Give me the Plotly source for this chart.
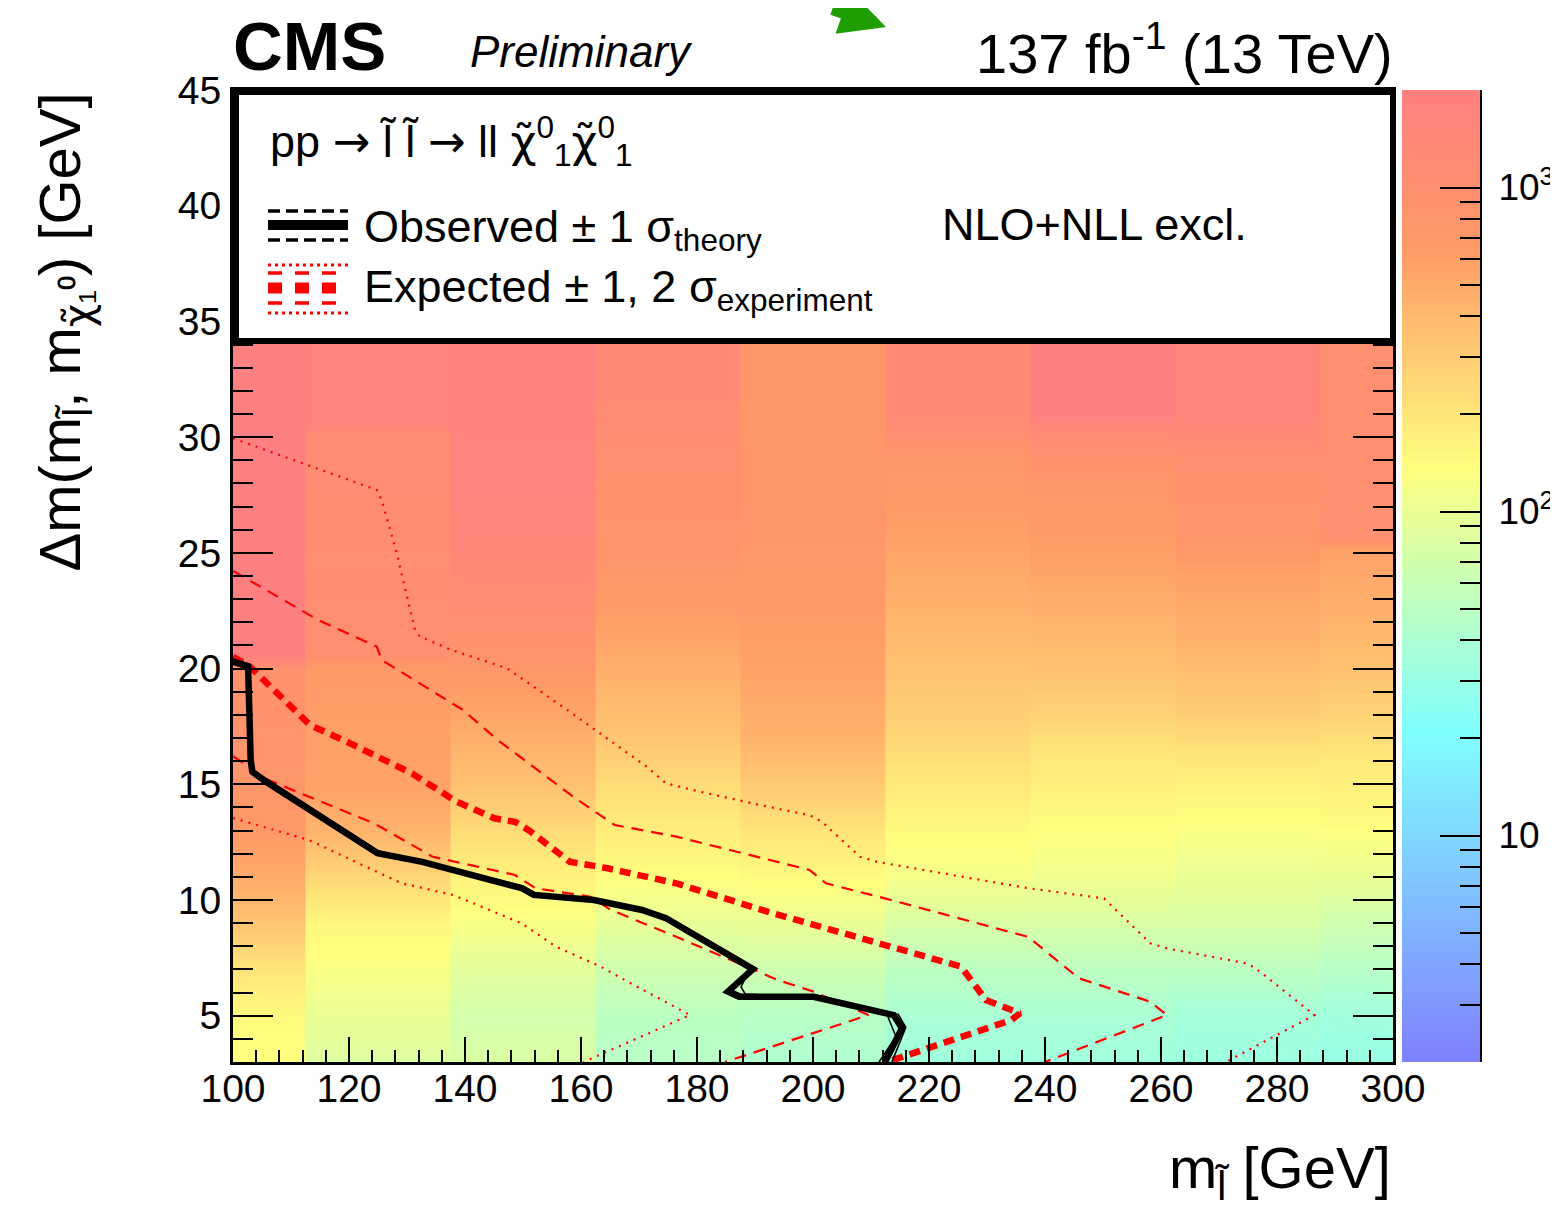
import numpy as np
import plotly.graph_objects as go

# ---------------- data ----------------
# x-bin edges of the colour map columns [GeV]
COL_EDGES = [100, 112.5, 137.5, 162.5, 187.5, 212.5, 237.5, 262.5, 287.5, 300]

# per column: delta-m nodes [GeV] and 95% CL upper limit on cross section [fb]
COL_A_Y = [3, 5, 7, 9, 11, 13, 15, 17, 20, 20.6, 45]
COL_A_V = [135, 145, 205, 332, 502, 662, 760, 870, 930, 2000, 2000]
COL_B_Y = [3, 5, 7, 9, 11, 13, 15, 17, 20, 20.6, 25, 30, 30.6, 45]
COL_B_V = [83, 100, 126, 155, 252, 438, 577, 600, 660, 1000, 1100, 1150, 1742, 1742]
COL_C_Y = [3, 5, 7, 9, 11, 13, 15, 17, 19, 21, 24, 27, 30, 45]
COL_C_V = [78, 72, 90, 126, 166, 235, 356, 469, 620, 900, 1300, 1700, 1800, 1800]
COL_D_Y = [3, 5, 7, 9, 11, 13, 15, 17, 20, 22, 25, 29, 32, 45]
COL_D_V = [48, 51, 67, 96, 135, 178, 235, 332, 469, 600, 820, 1000, 1300, 1300]
COL_E_Y = [3, 5, 7, 9, 11, 13, 15, 17, 20, 23, 26, 45]
COL_E_V = [42, 48, 67, 100, 145, 205, 310, 438, 577, 662, 760, 760]
COL_F_Y = [3, 5, 7, 9, 11, 13, 15, 18, 21, 24, 27, 29, 31, 45]
COL_F_V = [34, 39, 51, 78, 118, 145, 191, 289, 381, 502, 662, 760, 1300, 1300]
COL_G_Y = [3, 5, 7, 9, 11, 13, 16, 19, 22, 25, 28, 30, 31, 45]
COL_G_V = [34, 39, 51, 78, 110, 135, 191, 310, 438, 600, 760, 1150, 2000, 2000]
COL_H_Y = [3, 5, 7, 9, 11, 13.5, 15.5, 18, 21, 24, 26, 29, 31, 45]
COL_H_V = [32, 36, 51, 78, 100, 135, 178, 289, 438, 577, 820, 1000, 1600, 1600]
COL_I_Y = [3, 5, 7, 9, 11, 13.5, 16, 19, 22, 25.2, 25.6, 45]
COL_I_V = [30, 34, 48, 67, 100, 145, 191, 310, 438, 577, 1000, 1100]

COLUMNS = [(COL_A_Y, COL_A_V), (COL_B_Y, COL_B_V), (COL_C_Y, COL_C_V),
           (COL_D_Y, COL_D_V), (COL_E_Y, COL_E_V), (COL_F_Y, COL_F_V),
           (COL_G_Y, COL_G_V), (COL_H_Y, COL_H_V), (COL_I_Y, COL_I_V)]

Z_MIN, Z_MAX = 2, 2000

# exclusion contours (m_slepton, delta m) [GeV]
OBS_X = [100, 102.6, 103.05, 103.33, 105.69, 124.93, 132.62, 149.79, 151.86, 162.22,
         170.52, 174.66, 189.66, 185.34, 187.24, 200.1, 213.9, 215.34, 212.41]
OBS_Y = [20.30, 20.08, 16.05, 15.54, 15.11, 12.02, 11.65, 10.51, 10.22, 10.00,
         9.57, 9.21, 7.02, 6.04, 5.82, 5.82, 5.03, 4.46, 3.0]

OBS_UP_X = [100, 102.8, 103.3, 103.6, 106.0, 125.2, 132.9, 150.0, 152.1, 162.4,
            170.8, 175.0, 190.2, 186.0, 187.8, 200.3, 214.7, 216.0, 213.6]
OBS_UP_Y = [20.4, 20.2, 16.1, 15.6, 15.2, 12.1, 11.7, 10.6, 10.3, 10.05,
            9.6, 9.25, 7.05, 6.1, 5.9, 5.9, 5.05, 4.5, 3.0]
OBS_DN_X = [100, 102.4, 102.8, 103.1, 105.4, 124.7, 132.4, 149.6, 151.6, 162.0,
            170.3, 174.4, 189.0, 187.6, 188.3, 200.0, 212.8, 214.3, 211.4]
OBS_DN_Y = [20.2, 20.0, 16.0, 15.5, 15.05, 11.95, 11.6, 10.45, 10.15, 9.95,
            9.5, 9.15, 6.98, 6.24, 5.94, 5.78, 5.03, 4.1, 3.0]

EXP_X = [100, 102.93, 113.28, 119.60, 130.86, 138.55, 145.05, 148.62, 150.98, 158.09,
         164.59, 176.43, 192.24, 225.52, 229.83, 235.69, 234.14, 215.34, 212.76]
EXP_Y = [20.51, 20.08, 17.56, 16.84, 15.47, 14.25, 13.53, 13.38, 13.02, 11.65,
         11.37, 10.72, 9.49, 7.12, 5.68, 5.10, 4.81, 3.23, 3.0]

EXP_UP1_X = [100, 114.66, 124.78, 125.64, 139.66, 145.66, 158.67, 165.78, 176.43,
             192.24, 199.38, 202.24, 212.41, 237.07, 245.83, 258.10, 261.03, 240.0]
EXP_UP1_Y = [24.22, 22.10, 20.95, 20.37, 18.21, 16.91, 14.46, 13.24, 12.74,
             11.73, 11.30, 10.72, 10.07, 8.41, 6.62, 5.61, 5.03, 3.0]

EXP_DN1_X = [100, 106.0, 124.34, 134.40, 148.62, 152.16, 161.64, 165.17, 176.43,
             190.69, 193.95, 200.10, 209.55, 184.83]
EXP_DN1_Y = [16.22, 15.19, 13.31, 11.87, 11.08, 10.51, 10.14, 9.57, 8.41,
             6.90, 6.54, 6.04, 5.03, 3.0]

EXP_UP2_X = [100, 124.78, 125.64, 128.22, 131.38, 132.24, 137.71, 147.19, 156.90,
             171.33, 174.66, 180.52, 192.24, 199.38, 201.55, 208.10, 211.0, 237.12,
             250.17, 258.16, 261.03, 274.83, 276.31, 286.47, 271.21]
EXP_UP2_Y = [29.95, 27.72, 27.28, 25.0, 21.67, 21.38, 20.80, 20.02, 18.34,
             15.76, 15.04, 14.68, 14.03, 13.67, 13.38, 11.87, 11.65, 10.51,
             10.07, 8.13, 7.91, 7.26, 7.05, 5.03, 3.0]

EXP_DN2_X = [100, 113.10, 129.07, 137.93, 149.79, 155.69, 163.41, 167.55, 178.79, 160.45]
EXP_DN2_Y = [13.54, 12.59, 10.72, 10.22, 8.99, 7.98, 7.12, 6.54, 5.03, 3.0]

X_TICKS = [100, 120, 140, 160, 180, 200, 220, 240, 260, 280, 300]
Y_TICKS = [5, 10, 15, 20, 25, 30, 35, 40, 45]
CB_TICKS = [10, 100, 1000]
CB_TICK_TEXT = ["10", "10<sup>2</sup>", "10<sup>3</sup>"]
CB_MINOR = [3, 4, 5, 6, 7, 8, 9, 20, 30, 40, 50, 60, 70, 80, 90,
            200, 300, 400, 500, 600, 700, 800, 900]

# ---------------- figure geometry ----------------
# the page body adds an 8 px offset, so the figure is 8 px smaller and
# all positions below are given in window pixels
OFF = 8
W, H = 1558 - OFF, 1214 - OFF
L, R, T = 233 - OFF, 78, 90 - OFF
PW, PH = 1247, 972
B = H - T - PH
MAIN_RIGHT = 1393
XDOM = (MAIN_RIGHT - 233) / PW
CB_LEFT = 1402

def px(xp):
    return (xp - 233) / PW

def py(yp):
    return (1062 - yp) / PH

FONT = "Liberation Sans, Arial, Helvetica, sans-serif"
DJV = "<span style=\"font-family:'DejaVu Sans'\">%s</span>"
COLORSCALE = [[0.0, "#8080FF"], [0.34, "#80FFFF"], [0.61, "#FFFF80"],
              [0.84, "#FF9966"], [1.0, "#FF8080"]]
LZMIN, LZMAX = float(np.log10(Z_MIN)), float(np.log10(Z_MAX))

fig = go.Figure()

for i, (ys, vs) in enumerate(COLUMNS):
    lo, hi = COL_EDGES[i], COL_EDGES[i + 1]
    hi_draw = hi + (0.3 if i < len(COLUMNS) - 1 else 0)   # hide anti-alias seams
    z = [[float(np.log10(v))] * 2 for v in vs]
    fig.add_trace(go.Heatmap(x=[lo, (lo + hi) / 2, hi_draw], y=ys, z=z, zsmooth="best",
                             coloraxis="coloraxis", hoverinfo="skip"))

RED = "#FF0000"
fig.add_trace(go.Scatter(x=EXP_UP2_X, y=EXP_UP2_Y, mode="lines",
                         line=dict(color=RED, width=2.2, dash="2px,6px")))
fig.add_trace(go.Scatter(x=EXP_DN2_X, y=EXP_DN2_Y, mode="lines",
                         line=dict(color=RED, width=2.2, dash="2px,6px")))
fig.add_trace(go.Scatter(x=EXP_UP1_X, y=EXP_UP1_Y, mode="lines",
                         line=dict(color=RED, width=2.2, dash="12px,8px")))
fig.add_trace(go.Scatter(x=EXP_DN1_X, y=EXP_DN1_Y, mode="lines",
                         line=dict(color=RED, width=2.2, dash="12px,8px")))
fig.add_trace(go.Scatter(x=EXP_X, y=EXP_Y, mode="lines",
                         line=dict(color=RED, width=6.5, dash="11px,7px")))
fig.add_trace(go.Scatter(x=OBS_UP_X, y=OBS_UP_Y, mode="lines",
                         line=dict(color="black", width=1.6)))
fig.add_trace(go.Scatter(x=OBS_DN_X, y=OBS_DN_Y, mode="lines",
                         line=dict(color="black", width=1.6)))
fig.add_trace(go.Scatter(x=OBS_X, y=OBS_Y, mode="lines",
                         line=dict(color="black", width=6.5)))

# colour bar drawn as a gradient in its own small subplot (log10 units)
fig.add_trace(go.Heatmap(x=[0, 0.5, 1], y=[LZMIN, LZMAX],
                         z=[[LZMIN, LZMIN], [LZMAX, LZMAX]], zsmooth="best",
                         coloraxis="coloraxis", xaxis="x2", yaxis="y2",
                         hoverinfo="skip"))

axis_common = dict(showline=True, linewidth=3, linecolor="black", mirror="ticks",
                   ticks="inside", tickwidth=2, tickcolor="black", showgrid=False,
                   zeroline=False, tickfont=dict(family=FONT, size=39, color="black"))

fig.update_layout(
    width=W, height=H, margin=dict(l=L, r=R, t=T, b=B, autoexpand=False),
    paper_bgcolor="white", plot_bgcolor="white", showlegend=False,
    font=dict(family=FONT, color="black"),
    xaxis=dict(axis_common, domain=[0, XDOM], range=[100, 300], tickvals=X_TICKS,
               ticklen=25, ticklabelstandoff=-10,
               minor=dict(ticks="inside", ticklen=12, dtick=4, tickwidth=2,
                          tickcolor="black", showgrid=False)),
    yaxis=dict(axis_common, domain=[0, 1], range=[3, 45], tickvals=Y_TICKS,
               ticklen=40, ticklabelstandoff=1,
               minor=dict(ticks="inside", ticklen=20, dtick=1, tick0=0, tickwidth=2,
                          tickcolor="black", showgrid=False)),
    xaxis2=dict(domain=[px(CB_LEFT), 1], anchor="y2", visible=False, range=[0, 1]),
    yaxis2=dict(domain=[0, 1], anchor="x2", side="right", range=[LZMIN, LZMAX],
                showline=True, linewidth=2, linecolor="black", showgrid=False,
                zeroline=False, ticks="inside", ticklen=40, tickwidth=2,
                tickcolor="black", tickvals=[float(np.log10(v)) for v in CB_TICKS],
                ticktext=CB_TICK_TEXT, ticklabelstandoff=9,
                tickfont=dict(family=FONT, size=37, color="black"),
                minor=dict(ticks="inside", ticklen=20, tickwidth=2, tickcolor="black",
                           tickmode="array",
                           tickvals=[float(np.log10(v)) for v in CB_MINOR],
                           showgrid=False)),
    coloraxis=dict(colorscale=COLORSCALE, cmin=LZMIN, cmax=LZMAX, showscale=False),
)

# legend box and legend samples (decoration)
shapes = [dict(type="rect", xref="paper", yref="paper", x0=px(236), x1=px(1393),
               y0=py(341), y1=py(92), line=dict(color="black", width=6),
               fillcolor="white", layer="above")]
LX0, LX1 = px(268), px(348)

def hline(yp, color, width, dash="solid"):
    return dict(type="line", xref="paper", yref="paper", x0=LX0, x1=LX1,
                y0=py(yp), y1=py(yp), line=dict(color=color, width=width, dash=dash),
                layer="above")

shapes += [hline(211, "black", 3.5, "12px,6px"), hline(240, "black", 3.5, "12px,6px"),
           hline(225, "black", 10),
           hline(265, RED, 3, "3px,4px"), hline(313, RED, 3, "3px,4px"),
           hline(273, RED, 3.5, "14px,13px"), hline(303, RED, 3.5, "14px,13px"),
           hline(288, RED, 11, "14px,13px")]
fig.update_layout(shapes=shapes)

ann = []

def text(xp, yp, s, size, xanchor="left", yanchor="middle", angle=0):
    ann.append(dict(xref="paper", yref="paper", x=px(xp), y=py(yp), text=s,
                    showarrow=False, xanchor=xanchor, yanchor=yanchor, textangle=angle,
                    font=dict(family=FONT, size=size, color="black")))

CHI = DJV % "\u03c7\u0303"
ARROW = DJV % "\u2192"
text(231, 46, "<b>CMS</b>", 69)
text(468, 52, "<i>Preliminary</i>", 44)
text(1395, 49, "137 fb<sup>-1</sup> (13 TeV)", 56, xanchor="right")
text(1393, 1172, "m<sub>l\u0303</sub> [GeV]", 58, xanchor="right")
text(64, 90, "\u0394m(m<sub>l\u0303</sub>, m<sub>" + CHI + "\u2081\u2070</sub>) [GeV]", 58,
     xanchor="center", yanchor="top", angle=-90)
text(268, 141, "pp " + ARROW + " l\u0303 l\u0303 " + ARROW + " ll " + CHI +
     "<sup>0</sup><sub>1</sub>" + CHI + "<sup>0</sup><sub>1</sub>", 45)
text(362, 229, "Observed \u00b1 1 \u03c3<sub>theory</sub>", 45)
text(362, 290, "Expected \u00b1 1, 2 \u03c3<sub>experiment</sub>", 45)
text(940, 225, "NLO+NLL excl.", 45)

ann.append(dict(xref="paper", yref="paper", x=px(886), y=py(27), text="",
                showarrow=True, ax=-55, ay=-45, arrowcolor="#1E9E00",
                arrowwidth=13, arrowhead=2, arrowsize=0.7, standoff=0))
fig.update_layout(annotations=ann)

fig.write_html("out.html")
